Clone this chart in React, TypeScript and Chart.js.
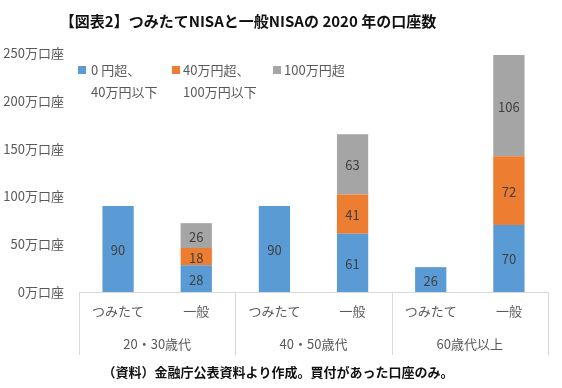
import React, { useEffect, useRef } from 'react';
import { Chart, registerables } from 'chart.js';

Chart.register(...registerables);

const categories = ['つみたて', '一般', 'つみたて', '一般', 'つみたて', '一般'];
const groups = ['20・30歳代', '40・50歳代', '60歳代以上'];
const seriesNames = ['0 円超、40万円以下', '40万円超、100万円以下', '100万円超'];
const legendLines = [['0 円超、', '40万円以下'], ['40万円超、', '100万円以下'], ['100万円超']];
const under40 = [90, 28, 90, 61, 26, 70];
const from40to100 = [null, 18, null, 41, null, 72];
const over100 = [null, 26, null, 63, null, 106];
const yMax = 250;
const yStep = 50;
const yUnit = '万口座';
const colors = ['#5B9BD5', '#ED7D31', '#A5A5A5'];
const titleText = '【図表2】つみたてNISAと一般NISAの 2020 年の口座数';
const sourceText = '（資料）金融庁公表資料より作成。買付があった口座のみ。';

const FONT = "'Noto Sans CJK JP', 'Noto Sans', sans-serif";
const AXIS_GRAY = '#595959';
const LINE_GRAY = '#D9D9D9';

const decorPlugin = {
  id: 'decor',
  afterDatasetsDraw(chart: any) {
    const ctx = chart.ctx;
    ctx.save();
    ctx.font = `13px ${FONT}`;
    ctx.fillStyle = '#404040';
    ctx.textAlign = 'center';
    ctx.textBaseline = 'middle';
    chart.data.datasets.forEach((ds: any, di: number) => {
      const meta = chart.getDatasetMeta(di);
      meta.data.forEach((el: any, i: number) => {
        const v = ds.data[i];
        if (v == null) return;
        ctx.fillText(String(v), el.x, (el.y + el.base) / 2 + 1);
      });
    });
    ctx.restore();
  },
  afterDraw(chart: any) {
    const ctx = chart.ctx;
    const area = chart.chartArea;
    const xs = chart.scales.x;
    ctx.save();

    // title
    ctx.font = `bold 15px ${FONT}`;
    ctx.fillStyle = '#111111';
    ctx.textAlign = 'center';
    ctx.textBaseline = 'middle';
    ctx.fillText(titleText, 248, 21);

    // legend
    const legendX = [area.left - 1, area.left + 93, area.left + 194];
    const textX = [area.left + 12, area.left + 104, area.left + 205];
    ctx.font = `13px ${FONT}`;
    ctx.textAlign = 'left';
    legendLines.forEach((lines, i) => {
      ctx.fillStyle = colors[i];
      ctx.fillRect(legendX[i], 66, 8, 8);
      ctx.fillStyle = AXIS_GRAY;
      lines.forEach((t, j) => ctx.fillText(t, textX[i], 70 + j * 22));
    });

    // group separators and labels
    const step = xs.getPixelForValue(1) - xs.getPixelForValue(0);
    ctx.strokeStyle = LINE_GRAY;
    ctx.lineWidth = 1;
    for (let g = 0; g <= groups.length; g++) {
      const px = Math.round(xs.getPixelForValue(g * 2) - step / 2) + 0.5;
      ctx.beginPath();
      ctx.moveTo(px, area.bottom);
      ctx.lineTo(px, area.bottom + 63);
      ctx.stroke();
    }
    ctx.fillStyle = AXIS_GRAY;
    ctx.textAlign = 'center';
    groups.forEach((gname, g) => {
      const cx = (xs.getPixelForValue(g * 2) + xs.getPixelForValue(g * 2 + 1)) / 2;
      ctx.fillText(gname, cx, area.bottom + 52);
    });

    // source note
    ctx.font = `bold 13px ${FONT}`;
    ctx.fillStyle = '#111111';
    ctx.fillText(sourceText, 278, 372);
    ctx.restore();
  },
};

export default function App() {
  const ref = useRef<HTMLCanvasElement>(null);
  useEffect(() => {
    const chart = new Chart(ref.current!, {
      type: 'bar',
      data: {
        labels: categories,
        datasets: [
          { label: seriesNames[0], data: under40, backgroundColor: colors[0] },
          { label: seriesNames[1], data: from40to100 as any, backgroundColor: colors[1] },
          { label: seriesNames[2], data: over100 as any, backgroundColor: colors[2] },
        ],
      },
      options: {
        responsive: false,
        animation: false,
        layout: { padding: { top: 53, right: 14, left: 0, bottom: 0 } },
        datasets: { bar: { categoryPercentage: 1, barPercentage: 0.4 } },
        plugins: {
          legend: { display: false },
          title: { display: false },
          tooltip: { enabled: false },
        },
        scales: {
          x: {
            stacked: true,
            grid: { display: false, drawTicks: false },
            border: { display: true, color: LINE_GRAY },
            ticks: { color: AXIS_GRAY, font: { family: FONT, size: 13 }, padding: 11, maxRotation: 0, autoSkip: false },
            afterFit(scale: any) { scale.height = 96; },
          },
          y: {
            stacked: true,
            min: 0,
            max: yMax,
            grid: { display: false, drawTicks: false },
            border: { display: false },
            ticks: {
              stepSize: yStep,
              color: AXIS_GRAY,
              font: { family: FONT, size: 13 },
              padding: 15,
              callback: (v: any) => `${v}${yUnit}`,
            },
            afterFit(scale: any) { scale.width = 79; },
          },
        },
      },
      plugins: [decorPlugin],
    });
    return () => chart.destroy();
  }, []);
  return (
    <div style={{ position: 'fixed', left: 0, top: 0, width: 562, height: 388, background: '#fff' }}>
      <canvas ref={ref} width={562} height={388} style={{ display: 'block' }} />
    </div>
  );
}
